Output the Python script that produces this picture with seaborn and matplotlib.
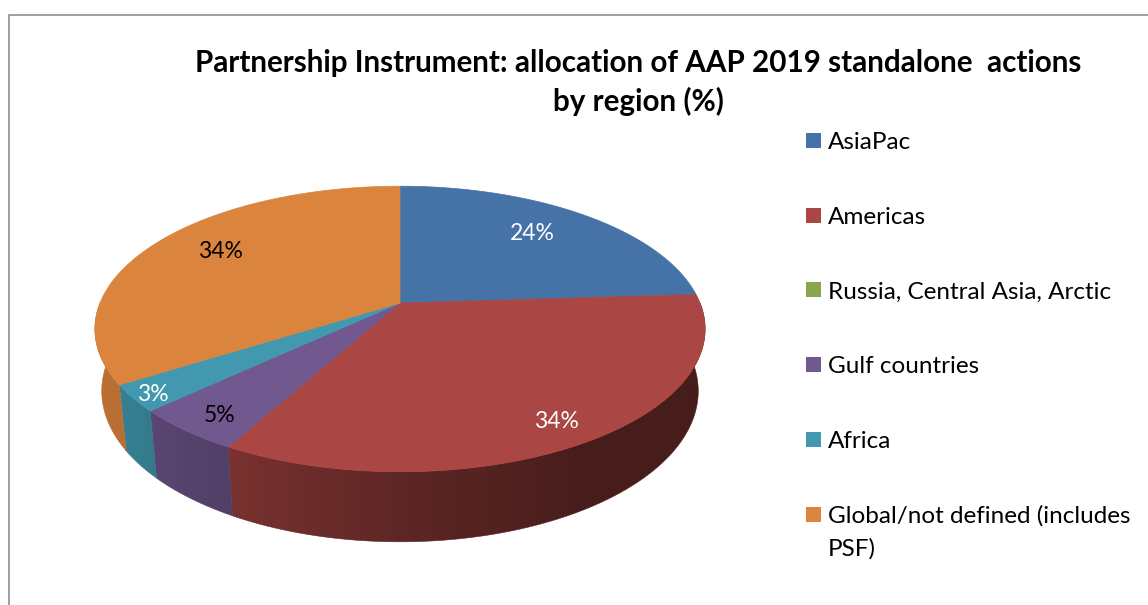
import numpy as np
import matplotlib
matplotlib.use("Agg")
import matplotlib.pyplot as plt
import seaborn as sns
from matplotlib.patches import Polygon, Rectangle
from matplotlib.colors import to_rgb

# ---- data -------------------------------------------------------------
regions = ["AsiaPac", "Americas", "Russia, Central Asia, Arctic",
           "Gulf countries", "Africa", "Global/not defined (includes\nPSF)"]
shares = [24, 34, 0, 5, 3, 34]
colors = ["#4572A7", "#AA4643", "#89A54E", "#71588F", "#4198AF", "#DB843D"]
label_colors = ["white", "white", "black", "black", "white", "black"]
title_lines = ["Partnership Instrument: allocation of AAP 2019 standalone  actions",
               "by region (%)"]

# ---- style ------------------------------------------------------------
sns.set_theme(style="white")
plt.rcParams["font.family"] = ["Lato", "DejaVu Sans"]

W, H = 1148, 605
fig = plt.figure(figsize=(W / 100, H / 100), dpi=100)
ax = fig.add_axes([0, 0, 1, 1])
ax.set_xlim(0, W)
ax.set_ylim(H, 0)
ax.axis("off")

# chart frame
ax.plot([9, 9, W + 5], [H + 5, 15, 15], color="#868686", lw=1.1,
        solid_joinstyle="miter", clip_on=False)

# ---- perspective camera for the tilted pie disc ------------------------
CX, CY = 400.0, 303.0
TILT = np.deg2rad(27.4)
SN, CS = np.sin(TILT), np.cos(TILT)
DIST = 4.88
FOCAL = 1464.0
THICK = 0.235


def project(X, Y, Z):
    depth = DIST + Y * CS - Z * SN
    return CX + FOCAL * X / depth, CY - FOCAL * (Y * SN + Z * CS) / depth


def side_shade(theta_deg):
    t = np.mod(theta_deg, 360.0)
    return np.interp(t, [180, 215, 241, 270, 300, 360],
                     [0.88, 0.84, 0.72, 0.55, 0.42, 0.41])


# screen x of the front rim -> rim angle, used to shade the side wall
rim_t = np.linspace(-178.0, -2.0, 800)
rim_x = np.array([project(np.cos(np.deg2rad(t)), np.sin(np.deg2rad(t)), 0)[0]
                  for t in rim_t])
order = np.argsort(rim_x)
rim_x, rim_t = rim_x[order], rim_t[order]

total = float(sum(shares))
cum = np.concatenate([[0.0], np.cumsum(shares)])
edges = 90.0 - 360.0 * cum / total  # clockwise from 12 o'clock

# side wall of each slice over the front half, with a horizontal shading ramp
for i, sh in enumerate(shares):
    if sh <= 0:
        continue
    a0, a1 = edges[i], edges[i + 1]
    lo, hi = max(a1, -180.0), min(a0, 0.0)
    if hi <= lo:
        continue
    th = np.deg2rad(np.linspace(lo, hi, 300))
    top = [project(np.cos(t), np.sin(t), 0) for t in th]
    bot = [project(np.cos(t), np.sin(t), -THICK) for t in th[::-1]]
    pts = np.array(top + bot)
    poly = Polygon(pts, closed=True, facecolor="none", edgecolor="none")
    ax.add_patch(poly)
    x0, x1 = pts[:, 0].min() - 2, pts[:, 0].max() + 2
    y0, y1 = pts[:, 1].min() - 2, pts[:, 1].max() + 2
    xs = np.linspace(x0, x1, 400)
    shade = side_shade(np.interp(xs, rim_x, rim_t))
    img = np.clip(np.array(to_rgb(colors[i]))[None, None, :] * shade[None, :, None], 0, 1)
    im = ax.imshow(img, extent=(x0, x1, y1, y0), aspect="auto",
                   interpolation="bilinear", zorder=1)
    im.set_clip_path(poly)
    # thin outline in the mid tone to soften the clipped edge
    ax.add_patch(Polygon(pts, closed=True, facecolor="none",
                         edgecolor=np.array(to_rgb(colors[i])) * shade.mean(),
                         lw=0.4, zorder=1))

# top faces
for i, sh in enumerate(shares):
    if sh <= 0:
        continue
    th = np.deg2rad(np.linspace(edges[i], edges[i + 1], 200))
    pts = [project(0, 0, 0)] + [project(np.cos(t), np.sin(t), 0) for t in th]
    ax.add_patch(Polygon(pts, closed=True, facecolor=colors[i],
                         edgecolor=colors[i], lw=0.5, zorder=2))

ax.set_xlim(0, W)
ax.set_ylim(H, 0)

# ---- helpers to size text to a given pixel width -----------------------
fig.canvas.draw()
renderer = fig.canvas.get_renderer()


def fit_width(txt, width_px):
    bb = txt.get_window_extent(renderer)
    txt.set_fontsize(txt.get_fontsize() * width_px / bb.width)
    return txt.get_fontsize()


# ---- value labels --------------------------------------------------------
label_pos = {0: (532, 240), 1: (556, 428), 3: (220, 422), 4: (153, 401), 5: (220, 258)}
ref = ax.text(0, 0, "24%", fontsize=16)
pct_size = fit_width(ref, 45)
ref.remove()
for i, sh in enumerate(shares):
    if sh <= 0:
        continue
    x, y = label_pos[i]
    ax.text(x, y, f"{sh:.0f}%", fontsize=pct_size, color=label_colors[i],
            ha="center", va="baseline", zorder=3)

# ---- title ---------------------------------------------------------------
t1 = ax.text(638, 72, title_lines[0], fontsize=20, fontweight="bold",
             ha="center", va="baseline", color="black")
tsize = fit_width(t1, 888)
ax.text(638, 111, title_lines[1], fontsize=tsize, fontweight="bold",
        ha="center", va="baseline", color="black")

# ---- legend --------------------------------------------------------------
ref = ax.text(0, 0, regions[2], fontsize=16)
leg_size = fit_width(ref, 284)
ref.remove()
step = 74.7
line_gap = 33
for i, name in enumerate(regions):
    top = 133 + i * step
    ax.add_patch(Rectangle((806, top), 15, 15, facecolor=colors[i],
                           edgecolor="none"))
    for j, line in enumerate(name.split("\n")):
        ax.text(828, top + 16 + j * line_gap, line, fontsize=leg_size,
                color="black", ha="left", va="baseline")

fig.savefig("out.png", dpi=100, facecolor="white")
